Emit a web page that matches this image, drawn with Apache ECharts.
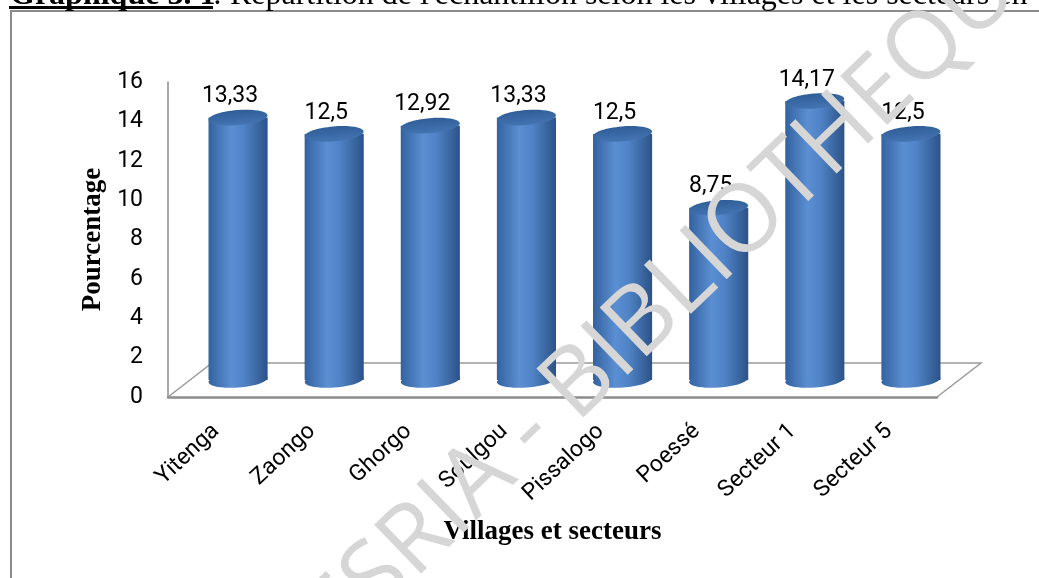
<!DOCTYPE html>
<html>
<head>
<meta charset="utf-8">
<script src="https://cdn.jsdelivr.net/npm/echarts@6/dist/echarts.min.js"></script>
<style>
  html, body { margin: 0; padding: 0; background: #ffffff; }
  #chart { width: 1039px; height: 578px; }
</style>
</head>
<body>
<div id="chart"></div>
<script>
// Sample distribution by village / sector (percent)
const categories = ['Yitenga', 'Zaongo', 'Ghorgo', 'Soulgou', 'Pissalogo', 'Poessé', 'Secteur 1', 'Secteur 5'];
const percentages = [13.33, 12.5, 12.92, 13.33, 12.5, 8.75, 14.17, 12.5];
const yTickValues = [0, 2, 4, 6, 8, 10, 12, 14, 16];

const titleBold = 'Graphique 3. 1';
const titleRest = ": Répartition de l'échantillon selon les villages et les secteurs en";
const xAxisTitle = 'Villages et secteurs';
const yAxisTitle = 'Pourcentage';
const watermarkText = 'CESRIA - BIBLIOTHEQUE';

// Front plane of the 3D box and the depth of its floor
const front = { left: 168, top: 82, width: 769, height: 315 };
const depth = { dx: 44, dy: 34 };

const sansFont = 'Roboto, "Open Sans", sans-serif';
const serifFont = '"Liberation Serif", "Times New Roman", serif';

const frontBottom = front.top + front.height;
const frontRight = front.left + front.width;

const fmt = v => String(v).replace('.', ',');

const chart = echarts.init(document.getElementById('chart'), null, { renderer: 'canvas' });

function renderCylinder(params, api) {
  const idx = api.value(0);
  const val = api.value(1);
  const base = api.coord([idx, 0]);
  const top = api.coord([idx, val]);
  const w = api.size([1, 0])[0] * 0.615;
  const cx = base[0];
  const rx = w / 2;
  const ry = 7.5;
  const tilt = 0.08;
  const bodyFill = new echarts.graphic.LinearGradient(0, 0, 1, 0, [
    { offset: 0, color: '#33629e' },
    { offset: 0.38, color: '#5b8fd3' },
    { offset: 0.6, color: '#4f83c6' },
    { offset: 1, color: '#2c5287' }
  ]);
  return {
    type: 'group',
    children: [
      {
        type: 'ellipse',
        shape: { cx: 0, cy: 0, rx: rx, ry: ry },
        x: cx, y: base[1], rotation: tilt,
        style: { fill: bodyFill }
      },
      {
        type: 'rect',
        shape: { x: cx - rx, y: top[1], width: w, height: base[1] - top[1] },
        style: { fill: bodyFill }
      },
      {
        type: 'ellipse',
        shape: { cx: 0, cy: 0, rx: rx, ry: ry },
        x: cx, y: top[1], rotation: tilt,
        style: {
          fill: new echarts.graphic.LinearGradient(0, 0, 0, 1, [
            { offset: 0, color: '#2f5d97' },
            { offset: 1, color: '#4475b2' }
          ])
        }
      },
      {
        type: 'text',
        x: cx - 8, y: top[1] - 21,
        style: {
          text: fmt(val),
          font: '23px ' + sansFont,
          fill: '#000000',
          align: 'center',
          verticalAlign: 'middle'
        }
      }
    ]
  };
}

const option = {
  animation: false,
  backgroundColor: '#ffffff',
  grid: [
    { left: front.left, top: front.top, width: front.width, height: front.height },
    { left: front.left + depth.dx / 2, top: front.top - depth.dy / 2, width: front.width, height: front.height }
  ],
  xAxis: [
    {
      type: 'category', gridIndex: 0, data: categories,
      axisTick: { show: false },
      axisLine: { lineStyle: { color: '#8c8c8c', width: 2.5 } },
      axisLabel: { rotate: 43, margin: 31, fontSize: 23, fontFamily: sansFont, color: '#000000' },
      name: xAxisTitle, nameLocation: 'middle', nameGap: 122,
      nameTextStyle: { fontFamily: serifFont, fontWeight: 'bold', fontSize: 27, color: '#000000' }
    },
    {
      type: 'category', gridIndex: 1, data: categories, show: false
    }
  ],
  yAxis: [
    {
      type: 'value', gridIndex: 0, min: yTickValues[0], max: yTickValues[yTickValues.length - 1],
      interval: yTickValues[1] - yTickValues[0],
      splitLine: { show: false },
      axisTick: { show: false },
      axisLine: { show: true, lineStyle: { color: '#8c8c8c', width: 1.5 } },
      axisLabel: { margin: 25, fontSize: 23, fontFamily: sansFont, color: '#000000' },
      name: yAxisTitle, nameLocation: 'middle', nameGap: 60,
      nameTextStyle: { fontFamily: serifFont, fontWeight: 'bold', fontSize: 27, color: '#000000' }
    },
    {
      type: 'value', gridIndex: 1, min: yTickValues[0], max: yTickValues[yTickValues.length - 1], show: false
    }
  ],
  series: [
    {
      type: 'custom',
      xAxisIndex: 1, yAxisIndex: 1,
      z: 5,
      renderItem: renderCylinder,
      data: percentages.map((v, i) => [i, v])
    }
  ],
  graphic: [
    // outer frame of the figure
    {
      type: 'rect', z: 1,
      shape: { x: 11, y: 11, width: 1200, height: 800 },
      style: { fill: null, stroke: '#8a8a8a', lineWidth: 2 }
    },
    // floor of the 3D box (back and side edges)
    {
      type: 'polyline', z: 1,
      shape: {
        points: [
          [front.left, frontBottom],
          [front.left + depth.dx, frontBottom - depth.dy],
          [frontRight + depth.dx, frontBottom - depth.dy],
          [frontRight, frontBottom]
        ]
      },
      style: { fill: null, stroke: '#9a9a9a', lineWidth: 1.5 }
    },
    // caption line above the figure: bold label, then plain text
    {
      type: 'text', z: 10, x: 10, y: -4,
      style: {
        text: titleBold,
        font: 'bold 32px ' + serifFont,
        fill: '#000000',
        align: 'left',
        verticalAlign: 'middle'
      }
    },
    {
      type: 'text', z: 10, x: 213, y: -4,
      style: {
        text: titleRest,
        font: '32px ' + serifFont,
        fill: '#000000',
        align: 'left',
        verticalAlign: 'middle'
      }
    },
    {
      type: 'line', z: 10,
      shape: { x1: 9, y1: 7.5, x2: 213, y2: 7.5 },
      style: { stroke: '#000000', lineWidth: 3 }
    },
    // library watermark
    {
      type: 'text', z: 100, x: 659, y: 307, rotation: 43.9 * Math.PI / 180,
      style: {
        text: watermarkText,
        font: '95px "Open Sans", sans-serif',
        fill: '#d6d6d6',
        align: 'center',
        verticalAlign: 'middle',
        blend: 'multiply'
      }
    }
  ]
};

chart.setOption(option);
</script>
</body>
</html>
